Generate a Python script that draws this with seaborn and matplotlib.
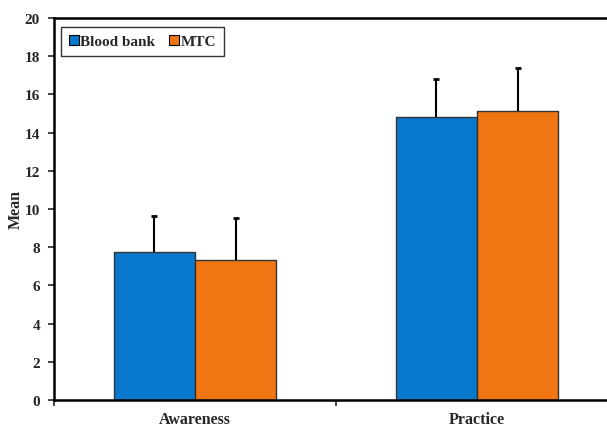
import matplotlib
matplotlib.use("Agg")
import matplotlib.pyplot as plt
import seaborn as sns
import pandas as pd
import numpy as np

categories = ["Awareness", "Practice"]
groups = ["Blood bank", "MTC"]
blood_bank_mean = [7.75, 14.82]
mtc_mean = [7.33, 15.13]
blood_bank_sd = [1.88, 2.0]
mtc_sd = [2.2, 2.25]
colors = ["#0878CC", "#F07613"]

df = pd.DataFrame({
    "category": categories * 2,
    "group": [groups[0]] * 2 + [groups[1]] * 2,
    "mean": blood_bank_mean + mtc_mean,
})
sds = [blood_bank_sd, mtc_sd]

sns.set_style("white")
plt.rcParams["font.family"] = ["Liberation Serif", "DejaVu Serif"]
plt.rcParams["font.weight"] = "bold"

fig = plt.figure(figsize=(6.07, 4.27), dpi=100)
ax = fig.add_axes([54 / 607, 26 / 427, 1 - 54 / 607, 382 / 427])

sns.barplot(data=df, x="category", y="mean", hue="group", order=categories,
            hue_order=groups, palette=colors, errorbar=None, width=0.575,
            gap=0, edgecolor="#333333", linewidth=1.0, saturation=1, ax=ax)

# one-sided error bars on top of each bar
for cont, sd in zip(ax.containers, sds):
    xs = [p.get_x() + p.get_width() / 2 for p in cont]
    ys = [p.get_height() for p in cont]
    eb = ax.errorbar(xs, ys, yerr=[np.zeros(len(sd)), sd], fmt="none",
                     ecolor="black", elinewidth=1.5, capsize=2.5, capthick=2,
                     zorder=1)
    eb[1][0].set_visible(False)  # hide the lower cap

ax.set_ylim(0, 20)
ax.set_yticks(range(0, 21, 2))

# boundary ticks (major) and centred labels (minor)
ax.set_xticks([-0.5, 0.5, 1.5])
ax.set_xticklabels([])
ax.set_xticks([0, 1], minor=True)
ax.set_xticklabels(categories, minor=True, fontsize=11.5, fontweight="bold")
ax.set_xlim(-0.5, 1.461)
ax.tick_params(axis="x", which="major", direction="out", length=4, width=1.2,
               bottom=True)
ax.tick_params(axis="x", which="minor", length=0, pad=8)
ax.tick_params(axis="y", direction="out", length=4, width=1.2, left=True,
               labelsize=11, pad=6)
for lab in ax.get_yticklabels():
    lab.set_fontweight("bold")

ax.set_xlabel("")
ax.set_ylabel("Mean", fontsize=11.5, fontweight="bold")
ax.yaxis.set_label_coords(-0.055, 0.5)

for side in ["left", "bottom", "top"]:
    ax.spines[side].set_visible(True)
    ax.spines[side].set_color("black")
    ax.spines[side].set_linewidth(1.8)
ax.spines["right"].set_visible(False)

leg = ax.legend(loc="upper left", bbox_to_anchor=(0.013, 0.976), ncol=2,
                frameon=True, fancybox=False, edgecolor="black",
                prop={"weight": "bold", "size": 11}, handlelength=0.65,
                handleheight=0.65, handletextpad=0.1, columnspacing=0.9,
                borderpad=0.5, borderaxespad=0)
leg.get_frame().set_linewidth(1.0)
for h in leg.legend_handles:
    h.set_edgecolor("black")
    h.set_linewidth(0.8)

fig.savefig("out.png", dpi=100)
